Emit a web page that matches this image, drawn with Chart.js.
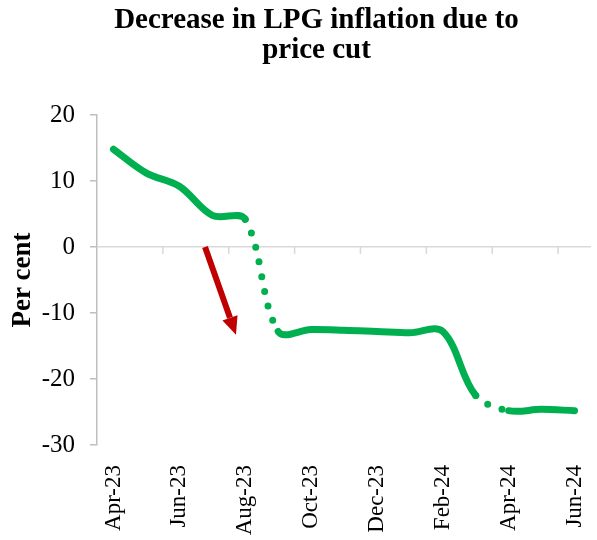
<!DOCTYPE html>
<html>
<head>
<meta charset="utf-8">
<title>Decrease in LPG inflation due to price cut</title>
<script src="https://cdn.jsdelivr.net/npm/chart.js@4.4.1/dist/chart.umd.min.js"></script>
<style>
  html, body { margin: 0; padding: 0; background: #fff; }
  #wrap { width: 597px; height: 540px; }
</style>
</head>
<body>
<div id="wrap"><canvas id="lpgChart" width="597" height="540"></canvas></div>
<script>
// Months on the category axis (only every second one is labelled)
const months = ['Apr-23', 'May-23', 'Jun-23', 'Jul-23', 'Aug-23', 'Sep-23', 'Oct-23', 'Nov-23',
                'Dec-23', 'Jan-24', 'Feb-24', 'Mar-24', 'Apr-24', 'May-24', 'Jun-24'];

// LPG inflation, per cent
const lpgInflation = [14.8, 11.2, 9.2, 4.8, 4.2, -12.8, -12.5, -12.6, -12.8, -13.0, -12.8, -22.5, -24.8, -24.6, -24.8];

// index of the month where a dotted stretch starts
const dottedFrom = [4, 11];

const yTicks = [20, 10, 0, -10, -20, -30];
const titleLines = ['Decrease in LPG inflation due to', 'price cut'];

// red arrow, in data units (category index, per cent)
const arrowFrom = [2.78, 0];
const arrowTo = [3.72, -13.3];

const GREEN = '#00b050';
const DARK_RED = '#c00000';
const SERIF = '"Liberation Serif", "Times New Roman", serif';

Chart.defaults.font.family = SERIF;
Chart.defaults.color = '#000';

// title, tick marks on the zero line and the arrow
const extras = {
    id: 'extras',
    beforeDatasetsDraw(chart) {
        const { ctx } = chart;
        const x = chart.scales.x;
        const y0 = chart.scales.y.getPixelForValue(0);
        ctx.save();
        ctx.strokeStyle = '#d9d9d9';
        ctx.lineWidth = 1.5;
        for (let k = 2; k < months.length; k += 2) {
            const px = x.getPixelForValue(k - 0.5);
            ctx.beginPath();
            ctx.moveTo(px, y0);
            ctx.lineTo(px, y0 + 7);
            ctx.stroke();
        }
        ctx.restore();
    },
    afterDatasetsDraw(chart) {
        const { ctx } = chart;
        const x = chart.scales.x;
        const y = chart.scales.y;
        const x1 = x.getPixelForValue(arrowFrom[0]), y1 = y.getPixelForValue(arrowFrom[1]);
        const x2 = x.getPixelForValue(arrowTo[0]), y2 = y.getPixelForValue(arrowTo[1]);
        const ang = Math.atan2(y2 - y1, x2 - x1);
        const headLen = 18, headHalf = 8;
        const bx = x2 - headLen * Math.cos(ang), by = y2 - headLen * Math.sin(ang);
        ctx.save();
        ctx.strokeStyle = DARK_RED;
        ctx.fillStyle = DARK_RED;
        ctx.lineWidth = 6;
        ctx.beginPath();
        ctx.moveTo(x1, y1);
        ctx.lineTo(bx, by);
        ctx.stroke();
        ctx.beginPath();
        ctx.moveTo(x2, y2);
        ctx.lineTo(bx + headHalf * Math.sin(ang), by - headHalf * Math.cos(ang));
        ctx.lineTo(bx - headHalf * Math.sin(ang), by + headHalf * Math.cos(ang));
        ctx.closePath();
        ctx.fill();
        ctx.restore();
    },
    afterDraw(chart) {
        const { ctx } = chart;
        ctx.save();
        ctx.font = 'bold 29px ' + SERIF;
        ctx.fillStyle = '#000';
        ctx.textAlign = 'center';
        ctx.textBaseline = 'alphabetic';
        titleLines.forEach((t, i) => ctx.fillText(t, chart.width / 2 + 18, 28 + i * 30));
        ctx.restore();
    }
};

const isDotted = c => dottedFrom.includes(c.p0DataIndex);

new Chart(document.getElementById('lpgChart'), {
    type: 'line',
    data: {
        labels: months,
        datasets: [{
            label: 'LPG inflation',
            data: lpgInflation,
            borderColor: GREEN,
            borderWidth: 7,
            borderCapStyle: 'round',
            borderJoinStyle: 'round',
            pointRadius: 0,
            tension: 0.35,
            segment: {
                borderDash: c => isDotted(c) ? [0, 15] : undefined
            }
        }]
    },
    options: {
        responsive: false,
        devicePixelRatio: 1,
        animation: false,
        layout: { padding: { top: 115, right: 6, left: 0, bottom: 0 } },
        plugins: {
            legend: { display: false },
            title: { display: false },
            tooltip: { enabled: false }
        },
        scales: {
            x: {
                offset: true,
                grid: { display: false },
                border: { display: false },
                ticks: {
                    autoSkip: false,
                    minRotation: 90,
                    maxRotation: 90,
                    padding: 12,
                    font: { size: 23 },
                    color: '#000',
                    callback: (v, i) => (i % 2 === 0 ? months[i] : '')
                },
                afterFit: s => {
                    s.height = 95;
                    s.paddingLeft = 0;
                    s.paddingRight = 0;
                }
            },
            y: {
                min: -30,
                max: 20,
                afterBuildTicks: s => { s.ticks = yTicks.map(v => ({ value: v })); },
                grid: {
                    color: c => (c.tick && c.tick.value === 0 ? '#d9d9d9' : 'rgba(0,0,0,0)'),
                    lineWidth: 1.5,
                    tickColor: '#bfbfbf',
                    tickLength: 7
                },
                border: { color: '#bfbfbf', width: 1.5 },
                ticks: { padding: 15, font: { size: 25 }, color: '#000' },
                title: {
                    display: true,
                    text: 'Per cent',
                    font: { size: 27, weight: 'bold' },
                    color: '#000',
                    padding: { top: 7, bottom: 0 }
                },
                afterFit: s => {
                    s.width = 97;
                    s.paddingTop = 0;
                    s.paddingBottom = 0;
                }
            }
        }
    },
    plugins: [extras]
});
</script>
</body>
</html>
